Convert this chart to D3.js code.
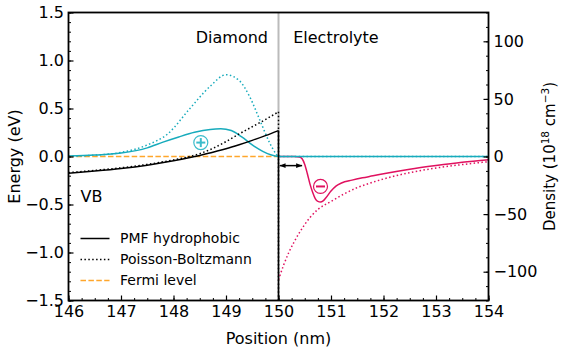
<!DOCTYPE html>
<html>
<head>
<meta charset="utf-8">
<script src="https://cdn.jsdelivr.net/npm/d3@7"></script>
<style>
  body { margin: 0; background: #fff; }
  svg { font-family: "DejaVu Sans", sans-serif; }
</style>
</head>
<body>
<div id="chart"></div>
<script>
// energy curves (eV), diamond side
const posDiamond   = [146, 146.5, 147, 147.5, 148, 148.5, 148.75, 149, 149.25, 149.5, 149.75, 150];
const pmfEnergy    = [-0.175, -0.152, -0.125, -0.09, -0.045, 0.01, 0.045, 0.08, 0.122, 0.168, 0.217, 0.27];
const pbEnergy     = [-0.168, -0.145, -0.118, -0.082, -0.035, 0.03, 0.085, 0.155, 0.235, 0.31, 0.385, 0.465];
const fermiEnergy  = [0, 0];
const fermiPos     = [146, 150];

// cation density (1e18 cm^-3)
const posCation    = [146, 146.5, 147, 147.5, 147.8, 148.1, 148.4, 148.7, 148.9, 149.1, 149.3, 149.5, 149.7, 149.85, 150, 152, 154];
const pmfCation    = [0.5, 1.2, 3, 7.5, 12.5, 17, 21, 23.5, 24, 22.5, 17, 10, 4.5, 1.5, 0, 0, 0];
const posCationPB  = [146, 146.5, 147, 147.5, 147.9, 148.3, 148.7, 149, 149.25, 149.45, 149.65, 149.83, 149.95, 150, 152, 154];
const pbCation     = [0.3, 1.2, 3.5, 10, 20, 41, 61, 71, 66, 52, 31, 12, 2.5, 0, 0, 0];

// anion density (1e18 cm^-3), electrolyte side
const posAnion     = [150, 150.3, 150.4, 150.45, 150.5, 150.55, 150.6, 150.65, 150.7, 150.75, 150.8, 150.85, 150.9, 151, 151.1, 151.2, 151.4, 151.6, 151.8, 152, 152.5, 153, 153.5, 154];
const pmfAnion     = [0, 0, -0.5, -2, -7, -15, -24, -31, -36.5, -39, -39.5, -38.5, -36, -30, -25.5, -23, -20.5, -18.5, -16.8, -15, -11, -7.8, -5, -2.8];
const posAnionPB   = [150, 150.1, 150.2, 150.3, 150.4, 150.5, 150.6, 150.75, 151, 151.25, 151.5, 151.75, 152, 152.5, 153, 153.5, 154];
const pbAnion      = [-107, -94, -83, -74, -66, -59, -53, -46, -39, -32.5, -27, -23, -19.5, -14, -10, -7, -4.5];

const legendLabels = ["PMF hydrophobic", "Poisson-Boltzmann", "Fermi level"];
const xTicks = [146, 147, 148, 149, 150, 151, 152, 153, 154];
const yTicks = [-1.5, -1.0, -0.5, 0.0, 0.5, 1.0, 1.5];
const y2Ticks = [-100, -50, 0, 50, 100];

const width = 568, height = 352;
const margin = { top: 12.5, right: 79.5, bottom: 51.5, left: 68.5 };
const innerWidth = width - margin.left - margin.right;
const innerHeight = height - margin.top - margin.bottom;

const cyan = "#17abbc", magenta = "#e0115f", orange = "#ffa62b";
const fs = 16;

const svg = d3.select("#chart").append("svg")
    .attr("width", width).attr("height", height)
    .append("g").attr("transform", `translate(${margin.left},${margin.top})`);

const x = d3.scaleLinear().domain([146, 154]).range([0, innerWidth]);
const y = d3.scaleLinear().domain([-1.5, 1.5]).range([innerHeight, 0]);
const y2 = d3.scaleLinear().domain([-125, 125]).range([innerHeight, 0]);

svg.append("defs").append("clipPath").attr("id", "clip")
    .append("rect").attr("width", innerWidth).attr("height", innerHeight);

const plot = svg.append("g").attr("clip-path", "url(#clip)");

// interface line
plot.append("line")
    .attr("x1", x(150)).attr("x2", x(150)).attr("y1", 0).attr("y2", innerHeight)
    .attr("stroke", "#bbbbbb").attr("stroke-width", 2);

const zip = (a, b) => a.map((v, i) => [v, b[i]]);
const lineE = d3.line().x(d => x(d[0])).y(d => y(d[1])).curve(d3.curveMonotoneX);
const lineD = d3.line().x(d => x(d[0])).y(d => y2(d[1])).curve(d3.curveMonotoneX);
const straight = d3.line().x(d => x(d[0])).y(d => y(d[1]));

const dotted = "1.5,2.4", dashed = "5.5,2.4";

// fermi level
plot.append("path").datum(zip(fermiPos, fermiEnergy)).attr("d", straight)
    .attr("fill", "none").attr("stroke", orange).attr("stroke-width", 1.5).attr("stroke-dasharray", dashed);

// anion
plot.append("path").datum(zip(posAnionPB, pbAnion)).attr("d", lineD)
    .attr("fill", "none").attr("stroke", magenta).attr("stroke-width", 1.5).attr("stroke-dasharray", dotted);
plot.append("path").datum(zip(posAnion, pmfAnion)).attr("d", lineD)
    .attr("fill", "none").attr("stroke", magenta).attr("stroke-width", 1.5);

// cation
plot.append("path").datum(zip(posCationPB, pbCation)).attr("d", lineD)
    .attr("fill", "none").attr("stroke", cyan).attr("stroke-width", 1.5).attr("stroke-dasharray", dotted);
plot.append("path").datum(zip(posCation, pmfCation)).attr("d", lineD)
    .attr("fill", "none").attr("stroke", cyan).attr("stroke-width", 1.5);

// energy
plot.append("path").datum(zip(posDiamond, pbEnergy)).attr("d", lineE)
    .attr("fill", "none").attr("stroke", "#000").attr("stroke-width", 1.5).attr("stroke-dasharray", dotted);
plot.append("path").datum([[150, pbEnergy[pbEnergy.length - 1]], [150, -1.6]]).attr("d", straight)
    .attr("fill", "none").attr("stroke", "#000").attr("stroke-width", 1.5).attr("stroke-dasharray", dotted);
plot.append("path").datum(zip(posDiamond, pmfEnergy)).attr("d", lineE)
    .attr("fill", "none").attr("stroke", "#000").attr("stroke-width", 1.5);
plot.append("path").datum([[150, pmfEnergy[pmfEnergy.length - 1]], [150, -1.6]]).attr("d", straight)
    .attr("fill", "none").attr("stroke", "#000").attr("stroke-width", 1.5);

// double arrow (adsorption gap)
const defs = svg.select("defs");
defs.append("marker").attr("id", "arr")
    .attr("viewBox", "0 0 10 10").attr("refX", 10).attr("refY", 5)
    .attr("markerWidth", 6).attr("markerHeight", 6).attr("orient", "auto-start-reverse")
    .attr("markerUnits", "userSpaceOnUse")
    .append("path").attr("d", "M0,1 L10,5 L0,9 Z").attr("fill", "#000");
svg.append("line")
    .attr("x1", x(150.02)).attr("x2", x(150.45)).attr("y1", y(-0.095)).attr("y2", y(-0.095))
    .attr("stroke", "#000").attr("stroke-width", 1.5)
    .attr("marker-start", "url(#arr)").attr("marker-end", "url(#arr)");

// charge symbols
function chargeSymbol(cx, cy, col, plus) {
    const g = svg.append("g").attr("transform", `translate(${cx},${cy})`);
    g.append("circle").attr("r", 7).attr("fill", "none").attr("stroke", col).attr("stroke-width", 1.2);
    g.append("line").attr("x1", -4.5).attr("x2", 4.5).attr("stroke", col).attr("stroke-width", 2);
    if (plus) g.append("line").attr("y1", -4.5).attr("y2", 4.5).attr("stroke", col).attr("stroke-width", 2);
}
chargeSymbol(x(148.52), y(0.145), "#3bbccb", true);
chargeSymbol(x(150.8), y2(-26), magenta, false);

// axes
const styleAxis = g => {
    g.select(".domain").remove();
    g.selectAll("line").attr("stroke", "#000").attr("stroke-width", 1.2);
    g.selectAll("text").attr("font-size", fs).attr("font-family", "DejaVu Sans").attr("fill", "#000");
};
const minorAxis = g => {
    g.select(".domain").remove();
    g.selectAll("text").remove();
    g.selectAll("line").attr("stroke", "#000").attr("stroke-width", 1);
};

svg.append("g").attr("transform", `translate(0,${innerHeight})`)
    .call(d3.axisBottom(x).tickValues(d3.range(146, 154.01, 0.25)).tickSize(-2.5))
    .call(minorAxis);
svg.append("g").attr("transform", `translate(0,${innerHeight})`)
    .call(d3.axisBottom(x).tickValues(xTicks).tickSize(-5).tickPadding(5).tickFormat(d3.format("d")))
    .call(styleAxis);

svg.append("g")
    .call(d3.axisLeft(y).tickValues(d3.range(-15, 16, 1).map(d => d / 10)).tickSize(-2.5))
    .call(minorAxis);
svg.append("g")
    .call(d3.axisLeft(y).tickValues(yTicks).tickSize(-5).tickPadding(4.5)
        .tickFormat(d => d3.format(".1f")(d).replace("-", "\u2212")))
    .call(styleAxis);

svg.append("g").attr("transform", `translate(${innerWidth},0)`)
    .call(d3.axisRight(y2).tickValues(d3.range(-125, 126, 12.5)).tickSize(-2.5))
    .call(minorAxis);
svg.append("g").attr("transform", `translate(${innerWidth},0)`)
    .call(d3.axisRight(y2).tickValues(y2Ticks).tickSize(-5).tickPadding(5)
        .tickFormat(d => String(d).replace("-", "\u2212")))
    .call(styleAxis);

// frame
svg.append("rect").attr("width", innerWidth).attr("height", innerHeight)
    .attr("fill", "none").attr("stroke", "#000").attr("stroke-width", 1.8);

// axis labels
svg.append("text").attr("x", innerWidth / 2).attr("y", innerHeight + 43)
    .attr("text-anchor", "middle").attr("font-size", fs).text("Position (nm)");
svg.append("text").attr("transform", `translate(${-49},${innerHeight / 2}) rotate(-90)`)
    .attr("text-anchor", "middle").attr("font-size", fs).text("Energy (eV)");
const dens = svg.append("text")
    .attr("transform", `translate(${innerWidth + 66},${innerHeight / 2}) rotate(-90)`)
    .attr("text-anchor", "middle").attr("font-size", 15);
dens.append("tspan").text("Density (10");
dens.append("tspan").attr("font-size", 10.5).attr("dy", -6).text("18");
dens.append("tspan").attr("dy", 6).text(" cm");
dens.append("tspan").attr("font-size", 10.5).attr("dy", -6).text("\u22123");
dens.append("tspan").attr("dy", 6).text(")");

// annotations
svg.append("text").attr("x", x(149.8)).attr("y", y(1.18))
    .attr("text-anchor", "end").attr("font-size", fs).text("Diamond");
svg.append("text").attr("x", x(150.28)).attr("y", y(1.18))
    .attr("font-size", fs).text("Electrolyte");
svg.append("text").attr("x", x(146.23)).attr("y", y(-0.47))
    .attr("font-size", fs).text("VB");

// legend
const legStyles = [null, dotted, dashed];
const legColors = ["#000", "#000", orange];
legendLabels.forEach((lab, i) => {
    const ly = 226 + i * 21;
    svg.append("line").attr("x1", 12).attr("x2", 41).attr("y1", ly).attr("y2", ly)
        .attr("stroke", legColors[i]).attr("stroke-width", 1.5)
        .attr("stroke-dasharray", legStyles[i]);
    svg.append("text").attr("x", 51.5).attr("y", ly).attr("dy", "0.35em")
        .attr("font-size", 14).text(lab);
});
</script>
</body>
</html>
